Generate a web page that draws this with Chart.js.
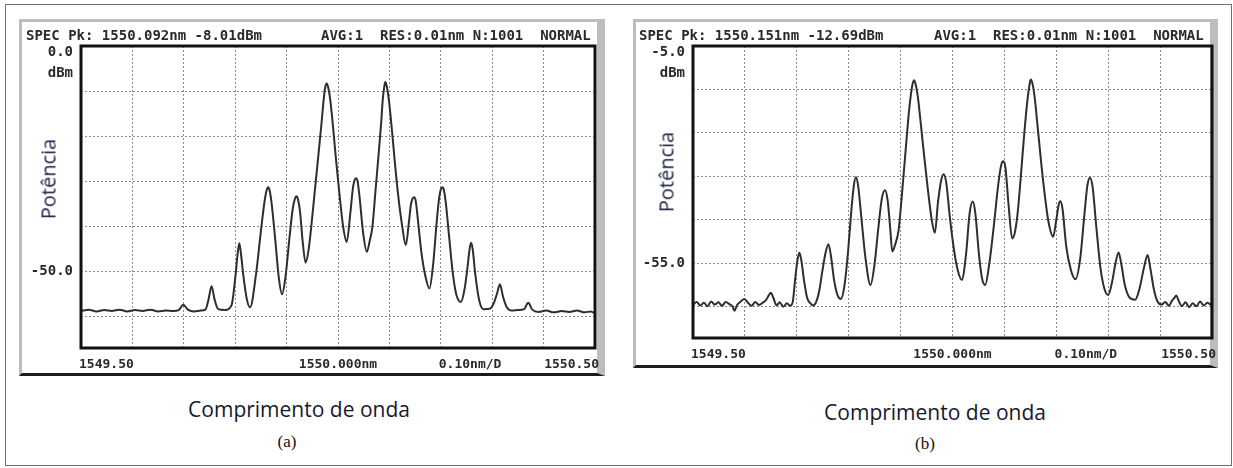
<!DOCTYPE html>
<html lang="pt">
<head>
<meta charset="utf-8">
<title>Espectros</title>
<script src="https://cdn.jsdelivr.net/npm/chart.js@4.4.1/dist/chart.umd.min.js"></script>
<style>
  html, body { margin: 0; padding: 0; background: #fff; }
  body { position: relative; width: 1233px; height: 468px; overflow: hidden; font-family: "Open Sans", sans-serif; }
  .sheet { position: absolute; left: 5px; top: 4px; width: 1227px; height: 462px; box-sizing: border-box; border: 1px solid #707070; }
  .frame { position: absolute; box-sizing: border-box; background: #fff; border: 3px solid #bdbdbd; border-right: 8px solid #bdbdbd; border-bottom: 3px solid #1c1c1c; }
  .box { position: absolute; }
  .hdr { position: absolute; top: 28px; font: bold 14px/14px "DejaVu Sans Mono", monospace; color: #2a2a2a; white-space: pre; }
  .pot { position: absolute; font-size: 20px; color: #1b2142; white-space: nowrap; transform: translate(-50%, -50%) rotate(-90deg); }
  .cap { position: absolute; font-size: 21px; color: #16192c; white-space: nowrap; transform: translate(-50%, -50%); }
  .tag { position: absolute; font: 17px "Liberation Serif", serif; color: #111; transform: translate(-50%, -50%); }
</style>
</head>
<body>
<div class="sheet"></div>
<div class="frame" style="left:19px;top:19px;width:586px;height:357px"></div>
<div class="frame" style="left:633px;top:19px;width:585px;height:349px"></div>
<div class="box" style="left:19px;top:19px"><canvas id="specA" width="586" height="357"></canvas></div>
<div class="box" style="left:633px;top:19px"><canvas id="specB" width="585" height="349"></canvas></div>
<div class="hdr" id="hdrA" style="left:26px"></div>
<div class="hdr" id="hdrB" style="left:639px"></div>
<div class="pot" style="left:48px;top:179px">Potência</div>
<div class="pot" style="left:666px;top:172px">Potência</div>
<div class="cap" style="left:299px;top:409px">Comprimento de onda</div>
<div class="cap" style="left:935px;top:412px">Comprimento de onda</div>
<div class="tag" style="left:287px;top:442px">(a)</div>
<div class="tag" style="left:925px;top:444px">(b)</div>

<script>
/* =====================================================
===================================================== */
const headerA = "SPEC Pk: 1550.092nm -8.01dBm       AVG:1  RES:0.01nm N:1001  NORMAL";
const headerB = "SPEC Pk: 1550.151nm -12.69dBm      AVG:1  RES:0.01nm N:1001  NORMAL";

const xTicks = [1549.5, 1549.6, 1549.7, 1549.8, 1549.9, 1550.0, 1550.1, 1550.2, 1550.3, 1550.4, 1550.5];
const xLabelText = ["1549.50", "1550.000nm", "0.10nm/D", "1550.50"];
const xLabelAt = [1549.5, 1550.0, 1550.257, 1550.5];

const yTicksA = [0, -10, -20, -30, -40, -50, -60];
const yTicksB = [-5, -15, -25, -35, -45, -55, -65];

// (a) wavelength (nm) / power (dBm)
const wlA = [
  1549.500, 1549.515, 1549.530, 1549.545, 1549.560, 1549.575, 1549.590, 1549.605, 1549.620, 1549.635,
  1549.650, 1549.665, 1549.680, 1549.690, 1549.699, 1549.708, 1549.720, 1549.733, 1549.742, 1549.748,
  1549.754, 1549.760, 1549.767, 1549.780, 1549.793, 1549.800, 1549.805, 1549.808, 1549.811, 1549.816,
  1549.823, 1549.829, 1549.840, 1549.850, 1549.857, 1549.861, 1549.864, 1549.867, 1549.871, 1549.878,
  1549.885, 1549.891, 1549.898, 1549.906, 1549.912, 1549.916, 1549.919, 1549.922, 1549.926, 1549.931,
  1549.937, 1549.943, 1549.948, 1549.955, 1549.962, 1549.968, 1549.972, 1549.975, 1549.978, 1549.981,
  1549.985, 1549.990, 1549.996, 1550.003, 1550.010, 1550.017, 1550.024, 1550.029, 1550.032, 1550.035,
  1550.038, 1550.042, 1550.049, 1550.056, 1550.062, 1550.067, 1550.073, 1550.079, 1550.084, 1550.087,
  1550.090, 1550.092, 1550.095, 1550.099, 1550.104, 1550.110, 1550.117, 1550.125, 1550.132, 1550.138,
  1550.142, 1550.145, 1550.148, 1550.151, 1550.155, 1550.162, 1550.170, 1550.178, 1550.185, 1550.192,
  1550.197, 1550.200, 1550.203, 1550.206, 1550.210, 1550.216, 1550.223, 1550.230, 1550.239, 1550.246,
  1550.252, 1550.256, 1550.259, 1550.262, 1550.267, 1550.275, 1550.283, 1550.295, 1550.303, 1550.309,
  1550.315, 1550.321, 1550.328, 1550.338, 1550.350, 1550.362, 1550.370, 1550.378, 1550.390, 1550.405,
  1550.420, 1550.435, 1550.450, 1550.465, 1550.480, 1550.492, 1550.500
];
const powA = [
  -58.7, -58.4, -58.8, -58.5, -58.7, -58.4, -58.8, -58.5, -58.7, -58.4,
  -58.8, -58.6, -58.7, -58.5, -57.3, -58.4, -58.8, -58.6, -58.4, -56.2,
  -53.2, -56.2, -58.3, -58.5, -57.4, -51.5, -45.8, -43.7, -45.8, -51.0,
  -56.3, -57.9, -51.0, -41.0, -34.5, -32.0, -31.3, -32.0, -35.0, -43.0,
  -51.5, -55.0, -51.0, -42.0, -36.0, -33.9, -33.3, -33.9, -36.5, -43.0,
  -48.0, -45.0, -40.0, -32.0, -24.0, -17.0, -12.0, -9.2, -8.3, -9.2,
  -12.0, -17.5, -25.0, -33.0, -40.0, -43.4, -37.0, -31.5, -29.8, -29.3,
  -29.9, -33.5, -41.5, -45.6, -43.0, -40.0, -32.0, -24.0, -17.0, -12.0,
  -9.0, -8.0, -9.0, -12.0, -17.5, -25.0, -33.0, -40.0, -44.1, -39.0,
  -35.0, -33.8, -33.5, -34.2, -38.0, -45.5, -51.0, -53.7, -48.5, -39.0,
  -33.5, -31.8, -31.3, -31.9, -35.0, -42.0, -50.0, -55.0, -56.7, -54.0,
  -49.0, -45.0, -43.6, -45.0, -50.5, -56.5, -58.3, -58.2, -57.0, -55.0,
  -52.8, -55.5, -57.8, -58.6, -58.5, -58.3, -56.9, -58.4, -58.9, -58.6,
  -59.0, -58.7, -58.9, -58.6, -59.0, -58.8, -59.3
];

// (b) wavelength (nm) / power (dBm)
const wlB = [
  1549.500, 1549.507, 1549.514, 1549.521, 1549.528, 1549.535, 1549.542, 1549.549, 1549.556, 1549.563,
  1549.570, 1549.576, 1549.580, 1549.585, 1549.592, 1549.599, 1549.606, 1549.613, 1549.620, 1549.627,
  1549.634, 1549.641, 1549.646, 1549.650, 1549.655, 1549.661, 1549.667, 1549.674, 1549.681, 1549.687,
  1549.692, 1549.697, 1549.701, 1549.705, 1549.709, 1549.714, 1549.720, 1549.726, 1549.731, 1549.737,
  1549.743, 1549.749, 1549.755, 1549.761, 1549.766, 1549.772, 1549.779, 1549.785, 1549.792, 1549.799,
  1549.805, 1549.810, 1549.814, 1549.818, 1549.824, 1549.832, 1549.842, 1549.850, 1549.857, 1549.864,
  1549.870, 1549.875, 1549.880, 1549.884, 1549.890, 1549.896, 1549.902, 1549.909, 1549.915, 1549.920,
  1549.923, 1549.926, 1549.929, 1549.933, 1549.939, 1549.946, 1549.953, 1549.960, 1549.966, 1549.972,
  1549.978, 1549.983, 1549.988, 1549.995, 1550.003, 1550.011, 1550.018, 1550.026, 1550.033, 1550.039,
  1550.044, 1550.051, 1550.057, 1550.063, 1550.071, 1550.080, 1550.088, 1550.094, 1550.098, 1550.102,
  1550.108, 1550.115, 1550.120, 1550.125, 1550.131, 1550.137, 1550.143, 1550.147, 1550.149, 1550.151,
  1550.154, 1550.158, 1550.164, 1550.171, 1550.178, 1550.185, 1550.194, 1550.200, 1550.205, 1550.208,
  1550.212, 1550.219, 1550.228, 1550.237, 1550.246, 1550.254, 1550.260, 1550.265, 1550.270, 1550.277,
  1550.285, 1550.293, 1550.300, 1550.308, 1550.314, 1550.320, 1550.325, 1550.332, 1550.342, 1550.352,
  1550.360, 1550.369, 1550.376, 1550.381, 1550.388, 1550.395, 1550.403, 1550.410, 1550.417, 1550.423,
  1550.428, 1550.431, 1550.436, 1550.442, 1550.449, 1550.456, 1550.463, 1550.470, 1550.477, 1550.484,
  1550.491, 1550.500
];
const powB = [
  -64.6, -63.9, -64.7, -64.1, -64.9, -63.8, -64.5, -64.0, -64.8, -63.9,
  -64.4, -64.9, -65.9, -64.6, -63.8, -63.2, -64.1, -64.8, -63.9, -64.6,
  -64.1, -63.4, -62.4, -61.8, -63.0, -64.7, -64.0, -65.0, -64.2, -64.8,
  -64.0, -58.5, -54.5, -52.6, -54.5, -59.0, -63.0, -64.2, -64.7, -64.0,
  -61.5, -57.0, -52.8, -50.6, -53.5, -59.0, -62.5, -63.2, -60.0, -52.0,
  -43.0, -37.0, -35.2, -37.0, -44.0, -53.5, -60.0, -55.0, -47.0, -40.0,
  -38.2, -40.5, -47.0, -52.3, -50.5, -47.5, -40.0, -30.0, -21.5, -16.0,
  -13.8, -12.9, -13.8, -16.5, -23.0, -31.0, -38.5, -45.0, -48.0, -41.0,
  -36.0, -34.5, -36.5, -44.5, -52.0, -57.0, -58.8, -53.0, -43.5, -40.8,
  -43.5, -53.0, -58.5, -60.0, -55.0, -46.0, -37.0, -32.3, -31.5, -33.0,
  -41.5, -49.3, -48.0, -44.0, -36.0, -27.0, -19.0, -15.0, -13.5, -12.7,
  -13.6, -16.5, -23.5, -32.0, -39.5, -45.5, -48.9, -45.0, -41.3, -40.7,
  -42.5, -51.0, -56.5, -58.7, -54.0, -44.0, -37.0, -35.3, -37.5, -46.5,
  -56.0, -61.0, -62.3, -59.0, -55.0, -52.5, -55.0, -60.0, -63.0, -63.4,
  -61.0, -56.0, -53.1, -56.0, -61.0, -63.8, -64.5, -63.9, -64.8, -63.6,
  -62.9, -62.4, -63.7, -64.9, -64.0, -65.1, -64.2, -64.9, -63.8, -64.7,
  -64.1, -64.8
];

document.getElementById("hdrA").textContent = headerA;
document.getElementById("hdrB").textContent = headerB;

/* =====================================================
   PLUGINS
===================================================== */
const plotFrame = {
  id: "plotFrame",
  afterDatasetsDraw(chart) {
    const { ctx, chartArea: a } = chart;
    ctx.save();
    ctx.strokeStyle = "#111";
    ctx.lineWidth = 3;
    ctx.strokeRect(a.left, a.top, a.right - a.left, a.bottom - a.top);
    ctx.restore();
  }
};

const osaText = {
  id: "osaText",
  afterDraw(chart, args, opts) {
    const { ctx, chartArea: a, scales } = chart;
    ctx.save();
    ctx.fillStyle = "#2a2a2a";
    ctx.textBaseline = "middle";

    ctx.font = 'bold 14px "DejaVu Sans Mono", monospace';
    ctx.textAlign = "right";
    ctx.fillText(opts.refText, a.left - 8, a.top + 6);
    ctx.fillText("dBm", a.left - 8, a.top + 27);
    ctx.fillText(opts.midText, a.left - 8, scales.y.getPixelForValue(opts.midValue));

    ctx.font = 'bold 13px "DejaVu Sans Mono", monospace';
    const aligns = ["left", "center", "center", "right"];
    const nudges = [-2, 0, 0, 4];
    xLabelText.forEach((t, i) => {
      ctx.textAlign = aligns[i];
      ctx.fillText(t, scales.x.getPixelForValue(xLabelAt[i]) + nudges[i], a.bottom + 17);
    });
    ctx.restore();
  }
};

/* =====================================================
   CHARTS
===================================================== */
function makeSpectrum(id, wl, pow, yMin, yMax, yTicks, text, box) {
  const grid = { color: "#8c8c8c", lineWidth: 1, drawTicks: false };
  const border = { display: false, dash: [2, 2] };

  new Chart(document.getElementById(id), {
    type: "line",
    data: {
      datasets: [{
        data: wl.map((w, i) => ({ x: w, y: pow[i] })),
        borderColor: "#2e2e2e",
        borderWidth: 2,
        pointRadius: 0,
        cubicInterpolationMode: "monotone",
        fill: false
      }]
    },
    options: {
      responsive: false,
      animation: false,
      events: [],
      layout: { padding: { left: 0, top: box.top, right: box.right, bottom: 0 } },
      plugins: {
        legend: { display: false },
        tooltip: { enabled: false },
        osaText: text
      },
      scales: {
        x: {
          type: "linear",
          min: 1549.5,
          max: 1550.5,
          afterBuildTicks: s => { s.ticks = xTicks.map(v => ({ value: v })); },
          afterFit: s => { s.height = box.bottom; s.paddingLeft = 0; s.paddingRight = 0; },
          ticks: { display: false },
          grid,
          border
        },
        y: {
          type: "linear",
          min: yMin,
          max: yMax,
          afterBuildTicks: s => { s.ticks = yTicks.map(v => ({ value: v })); },
          afterFit: s => { s.width = box.left; s.paddingTop = 0; s.paddingBottom = 0; },
          ticks: { display: false },
          grid,
          border
        }
      }
    },
    plugins: [plotFrame, osaText]
  });
}

makeSpectrum("specA", wlA, powA, -66.9, 0, yTicksA,
  { refText: "0.0", midText: "-50.0", midValue: -50 },
  { left: 62, top: 27, right: 10, bottom: 28 });

makeSpectrum("specB", wlB, powB, -72.2, -5, yTicksB,
  { refText: "-5.0", midText: "-55.0", midValue: -55 },
  { left: 60, top: 27, right: 6, bottom: 30 });
</script>
</body>
</html>
